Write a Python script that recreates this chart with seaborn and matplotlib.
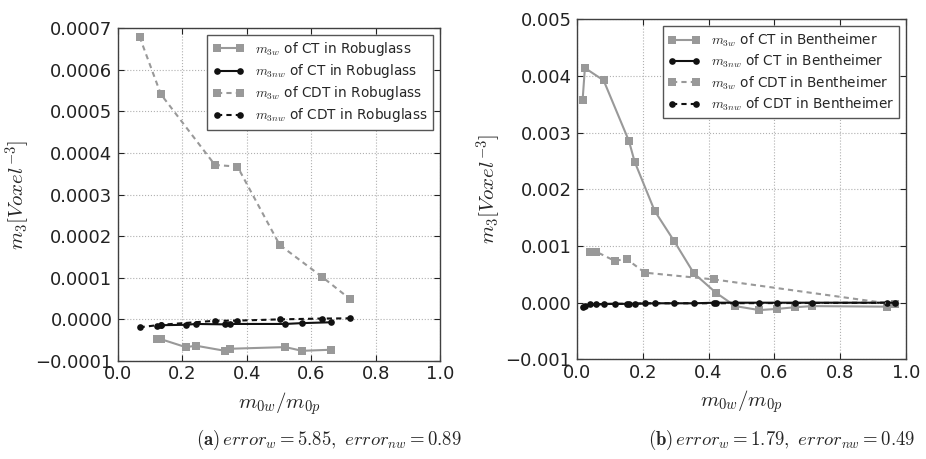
import numpy as np
import pandas as pd
import matplotlib
matplotlib.use("Agg")
import matplotlib.pyplot as plt
from matplotlib.ticker import FuncFormatter, MultipleLocator
import seaborn as sns

# ---------------- Robuglass (panel a) ----------------
rg_ct_x = [0.122, 0.135, 0.210, 0.243, 0.332, 0.347, 0.520, 0.571, 0.660]
rg_ct_w = [-0.000048, -0.000048, -0.0000666, -0.0000634, -0.0000755, -0.0000706,
           -0.0000666, -0.0000755, -0.000073]
rg_ct_nw = [-0.000015, -0.000014, -0.000013, -0.000011, -0.000012, -0.000011,
            -0.000011, -0.000009, -0.000007]
rg_cdt_x = [0.067, 0.133, 0.301, 0.371, 0.502, 0.634, 0.722]
rg_cdt_w = [0.000679, 0.000541, 0.000371, 0.000367, 0.000179, 0.000102, 0.000048]
rg_cdt_nw = [-0.000019, -0.000013, -0.0000034, -0.000003, 0.0, 0.000002, 0.0000025]

# ---------------- Bentheimer (panel b) ----------------
bh_ct_x = [0.017, 0.024, 0.081, 0.158, 0.175, 0.236, 0.296, 0.355, 0.422, 0.481,
           0.554, 0.607, 0.663, 0.714, 0.942]
bh_ct_w = [0.00357, 0.00414, 0.00392, 0.00285, 0.00249, 0.00162, 0.00108, 0.00052,
           0.000177, -0.00006, -0.00013, -0.00011, -0.00008, -0.00006, -0.00007]
bh_ct_nw = [-0.00007, -0.00005, -0.00002, -0.00002, -0.00002, -0.00001, -0.00001,
            -0.00001, 0.0, 0.0, 0.0, 0.0, 0.0, 0.0, 0.0]
bh_cdt_x = [0.038, 0.058, 0.114, 0.151, 0.206, 0.417, 0.967]
bh_cdt_w = [0.0009, 0.0009, 0.00074, 0.00077, 0.00053, 0.00041, -0.00003]
bh_cdt_nw = [-0.00003, -0.00003, -0.00002, -0.00002, -0.00001, -0.00001, 0.0]

captions = [r"$\mathbf{(a)}\,error_w = 5.85,\ error_{nw} = 0.89$",
            r"$\mathbf{(b)}\,error_w = 1.79,\ error_{nw} = 0.49$"]

sns.set_style("whitegrid", {
    "grid.linestyle": ":",
    "grid.color": "#b0b0b0",
    "axes.edgecolor": "#404040",
    "xtick.direction": "in",
    "ytick.direction": "in",
})
plt.rcParams.update({
    "font.family": ["DejaVu Sans"],
    "mathtext.fontset": "cm",
    "xtick.bottom": True, "ytick.left": True,
    "xtick.top": True, "ytick.right": True,
    "xtick.major.size": 4, "ytick.major.size": 4,
    "xtick.color": "#222222", "ytick.color": "#222222",
    "axes.linewidth": 1.0,
    "grid.linewidth": 0.8,
})

GRAY = "#999999"
BLACK = "#111111"


def draw_series(ax, x, y, color, marker, ms, dashed, label):
    df = pd.DataFrame({"x": x, "y": y})
    sns.lineplot(data=df, x="x", y="y", ax=ax, sort=False, estimator=None,
                 color=color, marker=marker, markersize=ms, markeredgewidth=0,
                 linewidth=1.5, label=label,
                 linestyle=(0, (2.5, 2.0)) if dashed else "-")


def signed(fmt):
    return FuncFormatter(lambda v, p: (fmt % v).replace("-", "\u2212"))


fig = plt.figure(figsize=(9.26, 4.59), dpi=100)
ax1 = fig.add_axes([118 / 926, 1 - 361 / 459, 322 / 926, 333 / 459])
ax2 = fig.add_axes([577 / 926, 1 - 359.4 / 459, 329 / 926, 340.2 / 459])

panels = [
    (ax1, "Robuglass", rg_ct_x, rg_ct_w, rg_ct_nw, rg_cdt_x, rg_cdt_w, rg_cdt_nw),
    (ax2, "Bentheimer", bh_ct_x, bh_ct_w, bh_ct_nw, bh_cdt_x, bh_cdt_w, bh_cdt_nw),
]

for ax, rock, ctx, ctw, ctnw, cdx, cdw, cdnw in panels:
    draw_series(ax, ctx, ctw, GRAY, "s", 5.5, False, r"$m_{3w}$ of CT in " + rock)
    draw_series(ax, ctx, ctnw, BLACK, "o", 4.8, False, r"$m_{3nw}$ of CT in " + rock)
    draw_series(ax, cdx, cdw, GRAY, "s", 5.5, True, r"$m_{3w}$ of CDT in " + rock)
    draw_series(ax, cdx, cdnw, BLACK, "o", 4.8, True, r"$m_{3nw}$ of CDT in " + rock)
    ax.set_xlim(0.0, 1.0)
    ax.xaxis.set_major_locator(MultipleLocator(0.2))
    ax.xaxis.set_major_formatter(signed("%.1f"))
    ax.set_xlabel(r"$m_{0w}/m_{0p}$", fontsize=15, labelpad=5)
    ax.set_ylabel(r"$m_3[Voxel^{-3}]$", fontsize=15, labelpad=2)
    ax.tick_params(axis="y", labelsize=13, pad=4)
    ax.tick_params(axis="x", labelsize=13, pad=3)
    ax.grid(True, which="major")
    leg = ax.legend(loc="upper right", numpoints=2, fontsize=9.8, frameon=True,
                    fancybox=False, framealpha=1.0, edgecolor="#555555",
                    handlelength=2.3, borderpad=0.4, labelspacing=0.3)
    leg.get_frame().set_linewidth(1.0)

ax1.set_ylim(-0.0001, 0.0007)
ax1.yaxis.set_major_locator(MultipleLocator(0.0001))
ax1.yaxis.set_major_formatter(signed("%.4f"))
ax2.set_ylim(-0.001, 0.005)
ax2.yaxis.set_major_locator(MultipleLocator(0.001))
ax2.yaxis.set_major_formatter(signed("%.3f"))

fig.text(329 / 926, 1 - 440 / 459, captions[0], ha="center", va="center", fontsize=13.5)
fig.text(782 / 926, 1 - 440 / 459, captions[1], ha="center", va="center", fontsize=13.5)

fig.savefig("out.png", dpi=100)
